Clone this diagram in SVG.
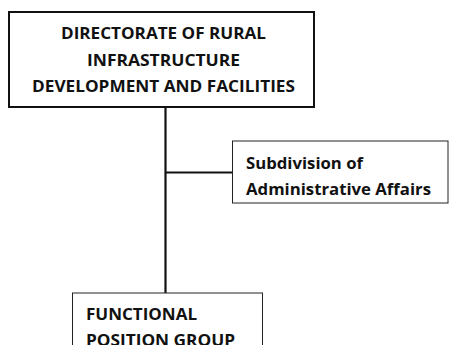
<svg xmlns="http://www.w3.org/2000/svg" width="450" height="345" viewBox="0 0 450 345">
<style>
.t{font-family:"Open Sans","Noto Sans","DejaVu Sans",sans-serif;font-weight:bold;font-size:16px;fill:#111}
.b1{fill:#fff;stroke:#111;stroke-width:2}
.b2{fill:#fff;stroke:#222;stroke-width:1}
.c{stroke:#111;stroke-width:2.2;fill:none}
</style>
<rect width="450" height="345" fill="#fff"/>
<g id="connectors">
<line class="c" x1="165.5" y1="107" x2="165.5" y2="293"/>
<line class="c" x1="165.5" y1="172.5" x2="232" y2="172.5"/>
</g>
<g id="directorate">
<rect class="b1" x="9" y="12" width="305" height="95"/>
<text class="t" x="61" y="39" textLength="205" lengthAdjust="spacingAndGlyphs">DIRECTORATE OF RURAL</text>
<text class="t" x="87" y="65.5" textLength="153" lengthAdjust="spacingAndGlyphs">INFRASTRUCTURE</text>
<text class="t" x="32" y="92" textLength="263" lengthAdjust="spacingAndGlyphs">DEVELOPMENT AND FACILITIES</text>
</g>
<g id="subdivision">
<rect class="b2" x="232.5" y="141" width="215.5" height="62"/>
<text class="t" x="246" y="168.5" textLength="117" lengthAdjust="spacingAndGlyphs">Subdivision of</text>
<text class="t" x="246" y="194.5" textLength="185" lengthAdjust="spacingAndGlyphs">Administrative Affairs</text>
</g>
<g id="functional">
<rect class="b2" x="72.5" y="293" width="190" height="60"/>
<text class="t" x="86" y="320" textLength="111" lengthAdjust="spacingAndGlyphs">FUNCTIONAL</text>
<text class="t" x="86" y="346" textLength="149" lengthAdjust="spacingAndGlyphs">POSITION GROUP</text>
</g>
</svg>
